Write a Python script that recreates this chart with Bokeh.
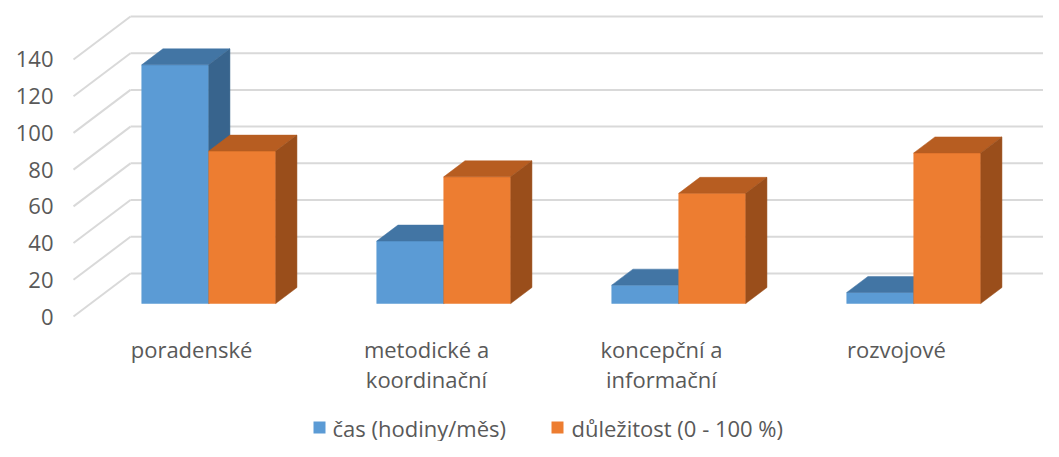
from bokeh.plotting import figure
from bokeh.embed import file_html
from bokeh.resources import INLINE
from bokeh.core.properties import value

# ---- data ----
categories = ["poradenské", "metodické a\nkoordinační", "koncepční a\ninformační", "rozvojové"]
series_names = ["čas (hodiny/měs)", "důležitost (0 - 100 %)"]
cas = [130, 34, 10, 6]
dulezitost = [83, 69, 60, 82]
y_ticks = [0, 20, 40, 60, 80, 100, 120, 140]

# ---- styling / geometry (pixel based scale factors) ----
W, H = 1043, 441
PX_PER_CAT = 235.0        # pixels per category step
PX_PER_VAL = 1.836        # pixels per value unit
X0_PX = 191.0             # front-plane centre of first category (px)
Y0_PX = 316.0             # front-plane zero (px from top)

x_start = (0 - X0_PX) / PX_PER_CAT
x_end = (W - X0_PX) / PX_PER_CAT
y_end = Y0_PX / PX_PER_VAL
y_start = -(H - Y0_PX) / PX_PER_VAL

def px_x(px):
    return (px - X0_PX) / PX_PER_CAT

def px_y(py):
    return (Y0_PX - py) / PX_PER_VAL

DX = 57 / PX_PER_CAT      # full depth offset, x (data units)
DY = 43 / PX_PER_VAL      # full depth offset, y (data units)
BAR_W = 67 / PX_PER_CAT
F_FRONT = 13 / 43
F_DEPTH = 16 / 43
WALL_X = px_x(73)         # front-left edge of side wall

p = figure(width=W, height=H, x_range=(x_start, x_end), y_range=(y_start, y_end),
           output_backend="svg", toolbar_location=None, min_border=0)
p.xaxis.visible = False
p.yaxis.visible = False
p.xgrid.visible = False
p.ygrid.visible = False
p.outline_line_color = None
p.background_fill_color = "white"

GRID = "#D9D9D9"
TXT = "#595959"
FONT = value("Open Sans")
FS = "22px"

# side wall diagonals and back wall lines
for t in y_ticks:
    p.line([WALL_X, WALL_X + DX], [t, t + DY], line_color=GRID, line_width=2)
    p.line([WALL_X + DX, x_end + 1], [t + DY, t + DY], line_color=GRID, line_width=2)

# tick labels
p.text(x=[px_x(53)] * len(y_ticks), y=y_ticks,
       text=[str(t) for t in y_ticks], text_align="right", text_baseline="middle",
       text_font=FONT, text_font_size=FS, text_color=TXT)

colors = [("#5B9BD5", "#4275A4", "#38648D"), ("#ED7D31", "#B75D21", "#9A4E1B")]
bdx = DX * F_DEPTH
bdy = DY * F_DEPTH
for si, vals in enumerate([cas, dulezitost]):
    front, top, side = colors[si]
    fx, fy, tx, ty, sx, sy = [], [], [], [], [], []
    for i, v in enumerate(vals):
        xl = i + DX * F_FRONT - BAR_W + si * BAR_W
        xr = xl + BAR_W
        y0 = DY * F_FRONT
        yt = y0 + v
        fx.append([xl, xr, xr, xl]); fy.append([y0, y0, yt, yt])
        tx.append([xl, xr, xr + bdx, xl + bdx]); ty.append([yt, yt, yt + bdy, yt + bdy])
        sx.append([xr, xr + bdx, xr + bdx, xr]); sy.append([y0, y0 + bdy, yt + bdy, yt])
    p.patches(fx, fy, fill_color=front, line_color=front, line_width=0.5)
    p.patches(tx, ty, fill_color=top, line_color=top, line_width=0.5)
    p.patches(sx, sy, fill_color=side, line_color=side, line_width=0.5)

# category labels (centred, multi-line, top anchored)
p.text(x=list(range(len(categories))), y=[px_y(333)] * len(categories),
       text=categories, text_align="center", text_baseline="top",
       text_font=FONT, text_font_size=FS, text_color=TXT, text_line_height=1.0)

# legend (kept inside the figure height)
leg_y = px_y(427)
sq_x = [px_x(319), px_x(557)]
txt_x = [px_x(332), px_x(571)]
p.scatter(x=sq_x, y=[leg_y] * 2, marker="square", size=12,
          fill_color=[colors[0][0], colors[1][0]], line_color=None)
p.text(x=txt_x, y=[leg_y] * 2, text=series_names, text_align="left", text_baseline="middle",
       text_font=FONT, text_font_size=FS, text_color=TXT)

open("out.html", "w").write(file_html(p, INLINE))
